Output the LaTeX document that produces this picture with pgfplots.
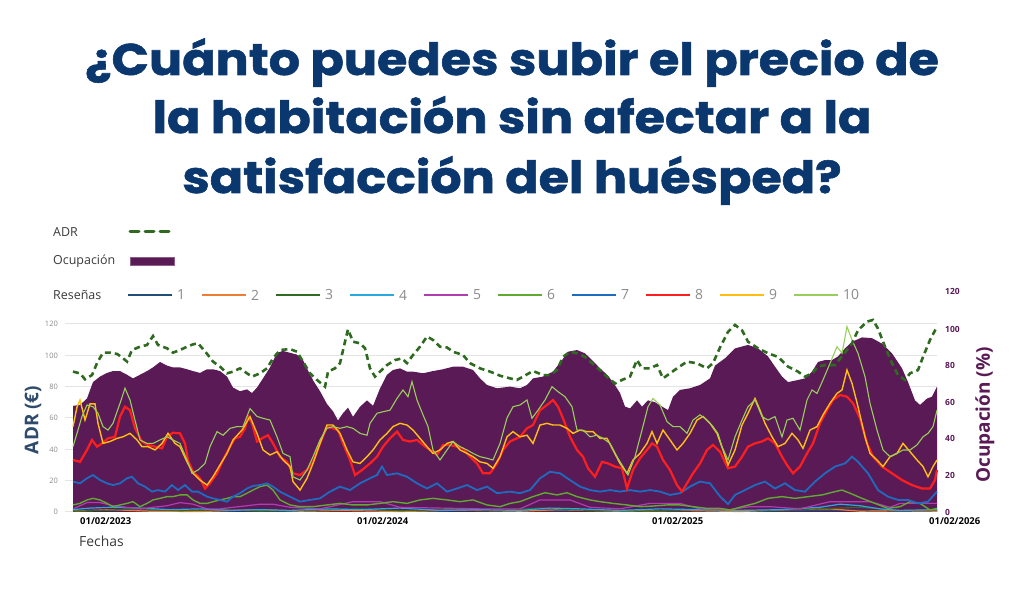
\documentclass[border=0pt]{standalone}
\usepackage{fontspec}
\setmainfont{Open Sans}
\newfontfamily\titlefont{Poppins}[BoldFeatures={FakeStretch=1.11,FakeBold=1.3}]
\usepackage{pgfplots}
\pgfplotsset{compat=1.18}
\definecolor{occ}{HTML}{5A1A56}
\definecolor{adrg}{HTML}{2E6A1F}
\definecolor{titleblue}{HTML}{0A376E}
\definecolor{ylab}{HTML}{2F4B6C}
\definecolor{gridgray}{HTML}{E4E4E4}
\definecolor{ticgray}{HTML}{8A8A8A}
\definecolor{txt}{HTML}{3A3A3A}
\definecolor{c1}{HTML}{1F4E79}
\definecolor{c2}{HTML}{ED7D31}
\definecolor{c3}{HTML}{2F6B22}
\definecolor{c4}{HTML}{2AA8E0}
\definecolor{c5}{HTML}{B03CB0}
\definecolor{c6}{HTML}{5FAA32}
\definecolor{c7}{HTML}{1E6CC0}
\definecolor{c8}{HTML}{FF1E1E}
\definecolor{c9}{HTML}{FFBE10}
\definecolor{c10}{HTML}{98CF5A}
\pgfplotsset{base/.style={at={(65bp,85bp)}, anchor=south west, scale only axis,
  width=872bp, height=188bp, xmin=65, xmax=937, clip=false}}
\begin{document}
\begin{tikzpicture}
\useasboundingbox (0,0) rectangle (1024bp,597bp);
% title
\node[anchor=base, text=titleblue, font=\titlefont\bfseries\fontsize{44.5}{50}\selectfont, inner sep=0pt] at (512bp,522bp) {¿Cuánto puedes subir el precio de};
\node[anchor=base, text=titleblue, font=\titlefont\bfseries\fontsize{44.5}{50}\selectfont, inner sep=0pt] at (512bp,464bp) {la habitación sin afectar a la};
\node[anchor=base, text=titleblue, font=\titlefont\bfseries\fontsize{44.5}{50}\selectfont, inner sep=0pt] at (512bp,404bp) {satisfacción del huésped?};
% axis 1: left ticks and grid
\begin{axis}[base, ymin=0, ymax=120, ytick={0,20,...,120}, ymajorgrids,
  grid style={line width=1bp, draw=gridgray},
  axis line style={draw=none}, major tick style={draw=none},
  /pgf/number format/assume math mode=true,
  yticklabel style={font=\fontsize{7.5}{8}\selectfont, text=ticgray, inner sep=0pt, xshift=-7bp},
  xtick={80,357,652,929}, xticklabels={01/02/2023,01/02/2024,01/02/2025,01/02/2026},
  xticklabel style={anchor=north west, inner sep=0pt, yshift=-5bp, font=\bfseries\fontsize{9.5}{10}\selectfont, text=black}]
\end{axis}
% axis 2: occupancy (right axis)
\begin{axis}[base, ymin=0, ymax=102.73, axis y line*=right, axis x line=none,
  ytick={0,20,...,100}, axis line style={draw=none}, major tick style={draw=none},
  /pgf/number format/assume math mode=true,
  yticklabel style={font=\bfseries\fontsize{8.5}{10}\selectfont, text=occ, inner sep=0pt, xshift=8bp}]
\addplot[fill=occ, draw=none] coordinates {
(73,58) (80,58.5) (87,62) (93,71) (100,74) (107,76) (113,77) (120,77) (127,75) (133,73)
(140,75) (147,77) (153,79) (160,82) (167,80) (173,79) (180,79) (187,78) (193,77) (200,76)
(207,78) (213,78) (220,77) (227,74) (233,68) (240,66) (247,67) (252,65) (257,68) (263,73)
(270,79) (277,87) (283,88) (290,87) (297,86) (303,83) (307,78.5) (313,72) (320,66) (327,59)
(333,55) (338,50) (343,54) (348,57) (353,52) (360,57.5) (367,61) (373,58) (380,67.5) (387,75)
(393,77.6) (400,78.5) (407,76.7) (413,76.7) (423,75.8) (433,77) (443,78) (453,79.4) (463,79.4) (473,77.6)
(480,73) (487,69.4) (497,67.6) (510,68.5) (520,67.6) (527,69.4) (533,73) (543,74) (553,76.7) (562,83)
(568,87.6) (577,88.5) (585,86.7) (592,83) (600,78.5) (607,75) (613,71) (620,65) (625,57.6) (630,56.6)
(637,61) (642,57.6) (648,61) (655,60) (662,57.6) (668,55.7) (673,63) (680,66.7) (690,67.6) (700,69.4)
(710,73) (715,80) (725,84) (735,89.4) (748,91.3) (758,89.4) (768,85) (775,79.4) (782,74) (788,71)
(797,72) (805,73) (812,76.7) (818,82) (825,83) (832,83) (838,85) (845,89.4) (852,93) (862,95.4)
(872,95) (882,92) (892,86.7) (902,78.5) (908,71) (915,61) (920,58.5) (927,62) (932,63) (937,68.5)
} \closedcycle;
\end{axis}
% axis 3: reviews and ADR (left units)
\begin{axis}[base, ymin=0, ymax=120, hide axis]
% 1
\addplot[c1, line width=1.2bp] coordinates {(73,1)(120,1.2)(180,0.8)(240,1)(300,0.6)(360,1)(420,0.8)(480,1.2)(540,0.7)(600,1)(660,0.8)(720,1)(780,0.6)(840,1.2)(900,0.8)(937,1)};
% 2
\addplot[c2, line width=1.2bp] coordinates {(73,0.5)(110,1.5)(150,0.5)(200,0.3)(260,1.5)(300,0.5)(340,1)(400,0.3)(460,1.2)(520,0.5)(560,1.5)(620,0.4)(680,1)(740,0.3)(790,1.5)(830,2)(860,0.5)(900,0.8)(937,0.5)};
% 3
\addplot[c3, line width=1.2bp] coordinates {(73,0.5)(100,1)(140,2)(180,0.8)(220,1.5)(260,0.5)(300,1)(360,2)(400,0.8)(450,1.5)(500,1)(540,2.5)(590,1)(640,0.5)(700,1.5)(760,1)(820,2)(860,3)(900,1)(937,1.5)};
% 4
\addplot[c4, line width=1.2bp] coordinates {(73,1.5)(90,2.5)(110,3)(140,2.5)(170,1.5)(200,2)(230,1)(260,1.5)(290,1)(330,2)(360,1.5)(400,2.5)(440,1)(480,1.5)(520,1)(550,2.5)(580,2)(620,1)(660,2)(700,1.5)(740,1)(780,1.5)(820,3)(840,5)(860,4)(880,2)(900,1)(937,1.5)};
% 5
\addplot[c5, line width=1.2bp] coordinates {(73,2)(87,6)(100,6)(113,4)(127,3)(140,2)(153,3)(167,4)(180,6)(193,5)(207,2)(220,2)(233,3)(247,4)(260,5)(273,5)(290,3)(320,2)(353,6.6)(380,6.6)(400,3)(440,2.5)(480,2)(520,2)(540,7.7)(570,7.7)(590,3)(620,2)(650,5.5)(680,5.5)(700,2)(730,1.5)(750,3.4)(770,3.4)(800,2)(830,6.6)(870,6.6)(890,3)(900,5.5)(937,5.5)};
% 6
\addplot[c6, line width=1.4bp] coordinates {
(73,4.5)(80,5.5)(87,7.7)(93,8.7)(100,7.7)(107,5.5)(113,3.4)(120,4.5)(127,5.5)(133,6.6)(140,3.4)(147,5.5)(153,7.7)(160,8.7)(167,9.8)(173,9.8)(180,10.9)(187,10.9)(193,7.7)(200,5.5)(207,5.5)(213,6.6)(220,7.7)(227,8.7)(233,9.8)(240,9.8)(247,12)(253,14)(260,16.2)(267,17.2)(273,14)(280,7.7)(290,4.5)(300,3.4)(313,3.4)(327,4.5)(340,5.5)(353,4.5)(367,4.5)(380,5.5)(393,6.6)(407,5.5)(420,7.7)(433,8.7)(447,7.7)(460,6.6)(473,7.7)(487,4.5)(500,3.4)(510,5.5)(520,6.6)(533,9.8)(545,12.3)(557,10.9)(567,12.3)(577,9.8)(590,7.7)(600,6.6)(613,5.5)(627,4.5)(640,3.4)(653,3.8)(667,4.5)(680,4.5)(693,3.4)(707,2.3)(720,2.3)(730,1.3)(742,3.4)(755,5.5)(768,8.7)(782,9.8)(795,8.7)(808,9.8)(822,10.9)(835,13)(842,14)(850,12)(862,8.7)(875,5.5)(888,2.3)(900,3.4)(910,6.6)(920,5.5)(930,1.3)(937,2.3)};
% 7
\addplot[c7, line width=1.8bp] coordinates {
(73,19.4)(80,18.3)(87,21.5)(93,23.6)(100,20.4)(107,18.3)(113,17.2)(120,18.3)(127,21.5)(132,22.5)(138,18.3)(145,16.2)(152,13)(158,14)(165,13)(172,17.2)(178,14)(185,17.2)(192,13)(198,13)(207,9.8)(213,8.7)(220,7.7)(227,6.6)(233,9.8)(240,12)(247,15)(253,16.6)(260,17.2)(267,18.3)(273,16.2)(280,13)(290,9.8)(300,6.6)(310,7.7)(320,8.7)(330,13)(340,16.2)(350,14)(360,18.3)(370,21.5)(377,23.6)(382,29)(387,23.6)(397,24.7)(407,22.5)(417,18.3)(427,15)(437,18.3)(447,13)(457,15)(467,17.2)(477,14)(487,16.2)(497,12)(510,13)(520,12)(530,14)(540,21.5)(550,25.7)(560,24.7)(570,20.4)(580,16.2)(590,14)(600,13)(610,14)(620,13)(630,14)(640,13)(650,14)(660,13)(670,10.9)(680,12)(690,16.2)(700,19.4)(710,18.3)(720,10)(728,5)(735,10.9)(745,14)(755,17.2)(765,19.4)(775,15)(785,18.3)(795,14)(805,13)(815,19.4)(825,24.7)(835,29)(845,31)(852,35.3)(858,32)(868,24.7)(878,14)(888,9.8)(898,7.7)(908,7.7)(918,5.5)(928,6.6)(937,13)};
% 8
\addplot[c8, line width=2.2bp] coordinates {
(73,33.2)(80,32)(87,39.6)(92,46)(97,41.7)(102,43.8)(108,47)(115,48)(120,60.9)(125,67.2)(130,65)(135,53.4)(142,45)(148,42.8)(155,41.7)(162,40.6)(167,48)(173,50.6)(180,50.2)(185,43.8)(188,33)(193,25.7)(200,21.5)(205,15)(210,18.3)(217,24.7)(223,33.2)(230,41.7)(235,47)(240,48)(245,53.4)(248,61)(252,56.6)(257,45)(262,47)(268,49)(273,43.8)(280,35.3)(287,32)(293,24.7)(300,23.6)(307,26.8)(313,32)(320,43.8)(327,54.5)(333,53.4)(338,52.3)(343,43.8)(350,33.2)(355,23.6)(362,26.8)(370,31)(377,35.3)(383,41.7)(390,47)(397,51.3)(403,46)(410,45)(417,46)(423,42.8)(430,39.6)(437,36.4)(443,42.8)(450,42.8)(457,41.7)(463,40.6)(470,35.3)(477,31)(483,24.7)(490,24.7)(497,31)(503,39.6)(510,45)(520,48)(527,53.4)(533,55.5)(540,65)(547,68.3)(553,71.5)(558,67.2)(563,59.8)(570,48)(577,39.6)(583,35.3)(588,27.9)(595,22.5)(602,32)(608,31)(615,29)(622,27.9)(627,15)(633,26.8)(640,34.3)(647,39.6)(652,43.8)(657,41.7)(663,33.2)(670,26.8)(677,17.2)(682,13)(687,18.3)(693,24.7)(700,31)(707,39.6)(713,42.8)(720,38.5)(728,27.9)(735,29)(742,35.3)(748,41.7)(755,43.8)(762,45)(768,47)(775,43.8)(782,35.3)(787,30)(793,24.7)(800,29)(807,37.4)(813,43.8)(820,56.6)(827,65)(833,71.5)(840,74.7)(847,73.6)(853,69.4)(860,59.8)(867,43.8)(873,35.3)(882,29)(892,24.7)(902,20.4)(912,17.2)(922,15)(930,15)(935,20.4)(937,26.8)};
% 9
\addplot[c9, line width=1.4bp] coordinates {
(73,54.5)(77,67)(80,71.5)(85,58.7)(90,69)(95,69)(98,56.6)(103,43.8)(110,45)(117,47)(123,48)(130,50.2)(137,46)(142,41.7)(148,41.7)(155,39.6)(162,43.8)(168,50.2)(175,43.8)(180,41.7)(187,32)(193,24.7)(200,20.4)(207,17.2)(213,22.5)(220,30)(227,37.4)(233,46)(242,52.3)(250,60.9)(257,50.2)(263,39.6)(270,36.4)(277,38.5)(283,33.2)(290,29)(293,19.4)(300,14)(307,21.5)(313,31)(320,43.8)(327,55.5)(333,55.5)(340,50.2)(347,39.6)(353,32)(360,31)(367,35.3)(373,39.6)(380,46)(387,50.2)(393,54.5)(400,56.6)(407,55.5)(413,52.3)(420,47)(427,41.7)(433,37.4)(440,39.6)(447,43.8)(453,45)(460,39.6)(467,37.4)(473,35.3)(480,32)(487,31)(493,27.9)(500,35.3)(507,48)(513,51.3)(520,48)(527,49)(533,43.8)(540,55.5)(547,56.6)(553,55.5)(560,55.5)(567,53.4)(573,50.2)(580,52.3)(587,51.3)(593,51.3)(600,47)(607,47)(613,39.6)(620,31)(627,24.7)(633,33.2)(640,37.4)(647,43.8)(652,51.3)(657,43.8)(663,52.3)(670,46)(677,39.6)(683,43.8)(690,50.2)(697,58.7)(703,61)(710,56.6)(717,50.2)(723,39.6)(728,30)(735,39.6)(742,55.5)(748,63)(755,72.5)(760,65)(765,56.6)(772,48)(778,41.7)(785,43.8)(792,50.2)(798,46)(803,40.6)(810,52.3)(817,54.5)(823,62)(830,69.4)(837,75.7)(842,77.9)(847,90.6)(852,82.1)(858,67.2)(865,48)(870,37.4)(877,33.2)(883,29)(890,35.3)(897,37.4)(903,43.8)(910,38.5)(917,33.2)(923,29)(928,22.5)(933,29)(937,33.2)};
% 10
\addplot[c10, line width=1.1bp] coordinates {
(73,41.7)(77,50.2)(82,61)(87,68.3)(93,67.2)(98,63)(103,54.5)(108,52.3)(113,56.6)(120,69.4)(125,79)(130,71.5)(135,58.7)(140,46)(147,43.8)(153,43.8)(160,46)(167,48)(173,46)(180,43.8)(187,33.2)(192,24.7)(198,26.8)(205,31)(210,41.7)(217,51.3)(223,49)(230,53.4)(237,54.5)(243,54.5)(250,66)(257,61)(263,59.8)(270,58.7)(277,48)(283,37.4)(290,35.3)(293,22.5)(300,20.4)(307,26.8)(313,35.3)(320,46)(327,53.4)(333,54.5)(340,53.4)(347,54.5)(353,53.4)(360,50.2)(367,49)(370,56.6)(377,63)(383,64)(390,65)(397,72.5)(403,77.9)(408,73.6)(412,83.2)(417,71.5)(423,62)(428,54.5)(433,39.6)(440,33.2)(447,39.6)(453,45)(460,41.7)(467,39.6)(473,37.4)(480,35.3)(487,34.3)(493,33.2)(500,43.8)(507,60)(513,67.2)(520,68.3)(527,71.5)(532,59.8)(538,65)(545,71.5)(552,80)(558,76.8)(565,73.6)(572,67.2)(577,52.3)(583,52.3)(590,48)(597,49)(603,47)(610,43.8)(617,35.3)(623,29)(628,23.6)(635,35.3)(642,52.3)(648,67.2)(653,72.5)(660,68.3)(667,57.7)(673,54.5)(680,54.5)(687,50.2)(693,58.7)(700,62)(707,58.7)(713,54.5)(718,50)(722,41.7)(728,33.2)(735,48)(742,58.7)(748,67.2)(755,71.5)(762,60.9)(768,58.7)(775,60.9)(782,48)(787,58.7)(793,59.8)(800,52.3)(807,71.5)(812,77.9)(817,75.7)(823,84.3)(830,94.9)(837,105.5)(842,101.3)(847,118.3)(852,109.8)(858,101.3)(865,86.4)(870,69.4)(877,52.3)(883,39.6)(890,35.3)(897,37.4)(903,39.6)(910,39.6)(917,42.8)(923,48)(928,50.2)(933,54.5)(937,65)};
% ADR
\addplot[adrg, line width=2.6bp, dash pattern=on 6bp off 4bp] coordinates {
(73,89.6)(80,88.5)(85,84.7)(92,87.4)(97,95)(103,101.7)(110,101.7)(117,100.9)(122,98.7)(127,96)(132,103.4)(140,105.5)(147,106.6)(153,112.3)(158,106.6)(167,104.5)(173,101.7)(180,103.4)(187,105.5)(193,107)(198,107.7)(207,101)(213,96)(220,92.8)(227,88.5)(233,89.6)(240,91.7)(247,88.5)(252,86.4)(260,88.5)(267,91.7)(273,98)(280,103.4)(290,104)(297,102.3)(303,96)(310,88.5)(317,84.3)(325,80)(328,89.6)(335,91.7)(340,95)(345,108.7)(348,116.6)(353,108.7)(360,107.7)(365,104.5)(370,91.7)(375,86.4)(380,89.6)(387,93.8)(395,97)(402,98)(407,95)(413,100.2)(420,105.5)(427,112)(433,109.8)(440,105.5)(447,105)(453,102.3)(463,100.2)(470,95)(480,91.7)(490,89.6)(500,87)(510,85.3)(517,84.3)(523,86.4)(533,90)(543,87.4)(550,87.4)(557,90.6)(563,99)(570,102.3)(577,101.3)(585,99)(592,95)(600,90.6)(607,86.4)(615,82)(622,84.3)(630,86.4)(637,97)(642,91.7)(650,91.7)(657,93.8)(663,85.3)(670,88.5)(677,91.7)(687,96)(697,94.9)(707,91.7)(713,95)(720,105)(728,115)(735,119.4)(742,116)(748,108.7)(758,104.5)(768,101.3)(778,99)(788,92.8)(798,89.6)(805,86.4)(812,88.5)(818,92.8)(825,93.8)(835,93.8)(843,100.2)(852,107.7)(858,116)(867,121.5)(873,122.6)(878,117)(885,105.5)(892,95)(898,87.4)(905,84.3)(910,88.5)(918,90.6)(923,99)(930,109.8)(937,118.3)};
\end{axis}
% axis titles
\node[rotate=90, font=\bfseries\fontsize{19}{22}\selectfont, text=ylab] at (33bp,177bp) {ADR (€)};
\node[rotate=90, font=\bfseries\fontsize{19}{22}\selectfont, text=occ] at (985bp,182bp) {Ocupación (\%)};
\node[anchor=west, inner sep=0pt, font=\bfseries\fontsize{8.5}{10}\selectfont, text=occ] at (945bp,306bp) {120};
\node[anchor=west, inner sep=0pt, font=\fontsize{14}{16}\selectfont, text=txt] at (79bp,56bp) {Fechas};
% legend
\node[anchor=west, inner sep=0pt, font=\fontsize{12.5}{14}\selectfont, text=txt] at (53bp,365bp) {ADR};
\draw[adrg, line width=3bp, dash pattern=on 9bp off 6bp, line cap=round] (130bp,365bp) -- (172bp,365bp);
\node[anchor=west, inner sep=0pt, font=\fontsize{12.5}{14}\selectfont, text=txt] at (53bp,336bp) {Ocupación};
\draw[fill=occ, draw=occ!70!white, line width=0.8bp] (130bp,332bp) rectangle (174bp,340bp);
\node[anchor=west, inner sep=0pt, font=\fontsize{12.5}{14}\selectfont, text=txt] at (53bp,302bp) {Reseñas};
\foreach \i/\c in {1/c1,2/c2,3/c3,4/c4,5/c5,6/c6,7/c7,8/c8,9/c9,10/c10}{
  \draw[\c, line width=2bp] ({128bp+(\i-1)*74bp},302bp) -- ++(44bp,0);
  \node[anchor=west, inner sep=0pt, font=\fontsize{14}{16}\selectfont, text=ticgray] at ({177bp+(\i-1)*74bp},302bp) {\i};
}
\end{tikzpicture}
\end{document}
